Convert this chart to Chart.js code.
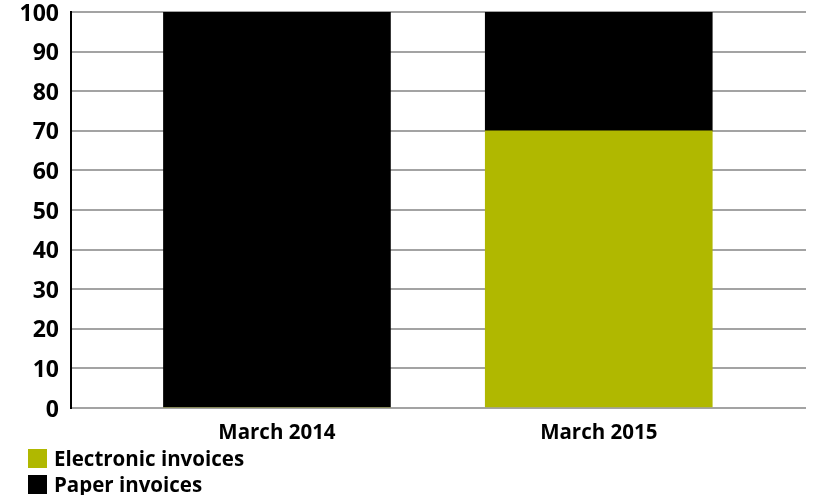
<!DOCTYPE html>
<html>
<head>
<meta charset="utf-8">
<script src="https://cdn.jsdelivr.net/npm/chart.js@4.4.1/dist/chart.umd.min.js"></script>
<style>
  html, body { margin: 0; padding: 0; background: #fff; }
  #wrap { position: relative; width: 814px; height: 495px; overflow: hidden; }
  #legend { position: absolute; left: 28px; top: 446px; font-family: "Open Sans", sans-serif; font-weight: 700; font-size: 20.5px; color: #000; }
  .item { display: flex; align-items: center; height: 24px; margin-bottom: 2px; }
  .sw { width: 19px; height: 19px; margin-right: 7px; }
</style>
</head>
<body>
<div id="wrap">
  <canvas id="c" width="814" height="495"></canvas>
  <div id="legend"></div>
</div>
<script>
const categories = ["March 2014", "March 2015"];
const seriesNames = ["Electronic invoices", "Paper invoices"];
const electronic = [0, 70];
const paper = [100, 30];
const yTicks = [0, 10, 20, 30, 40, 50, 60, 70, 80, 90, 100];
const colors = ["#b0b800", "#000000"];

const toPoints = arr => arr.map((v, i) => ({ x: i, y: v }));

const font = "'Open Sans', sans-serif";

const chart = new Chart(document.getElementById('c'), {
  type: 'bar',
  data: {
    datasets: [
      { label: seriesNames[0], data: toPoints(electronic), backgroundColor: colors[0], barThickness: 227, borderWidth: 0 },
      { label: seriesNames[1], data: toPoints(paper), backgroundColor: colors[1], barThickness: 227, borderWidth: 0 }
    ]
  },
  options: {
    responsive: false,
    animation: false,
    layout: { padding: { top: 0, right: 8, left: 0, bottom: 0 } },
    plugins: { legend: { display: false }, tooltip: { enabled: false } },
    scales: {
      x: {
        type: 'linear',
        stacked: true,
        offset: false,
        min: -0.64,
        max: 1.644,
        afterBuildTicks: s => { s.ticks = categories.map((_, i) => ({ value: i })); },
        afterFit: s => { s.height = 87; },
        grid: { display: false },
        border: { display: false },
        ticks: {
          autoSkip: false,
          maxRotation: 0,
          padding: 5,
          color: '#000',
          font: { family: font, weight: 'bold', size: 20.5 },
          callback: v => categories[v] ?? ''
        }
      },
      y: {
        stacked: true,
        min: 0,
        max: 100,
        afterBuildTicks: s => { s.ticks = yTicks.map(v => ({ value: v })); },
        afterFit: s => { s.width = 71; s.paddingTop = 12; },
        grid: { color: '#a3a3a3', lineWidth: 2, drawTicks: false },
        border: { color: '#000', width: 2 },
        ticks: {
          padding: 12,
          labelOffset: 2,
          color: '#000',
          font: { family: font, weight: 'bold', size: 23 }
        }
      }
    }
  }
});

const lg = document.getElementById('legend');
chart.data.datasets.forEach(ds => {
  const it = document.createElement('div');
  it.className = 'item';
  const sw = document.createElement('span');
  sw.className = 'sw';
  sw.style.background = ds.backgroundColor;
  const tx = document.createElement('span');
  tx.textContent = ds.label;
  it.appendChild(sw); it.appendChild(tx);
  lg.appendChild(it);
});
</script>
</body>
</html>
